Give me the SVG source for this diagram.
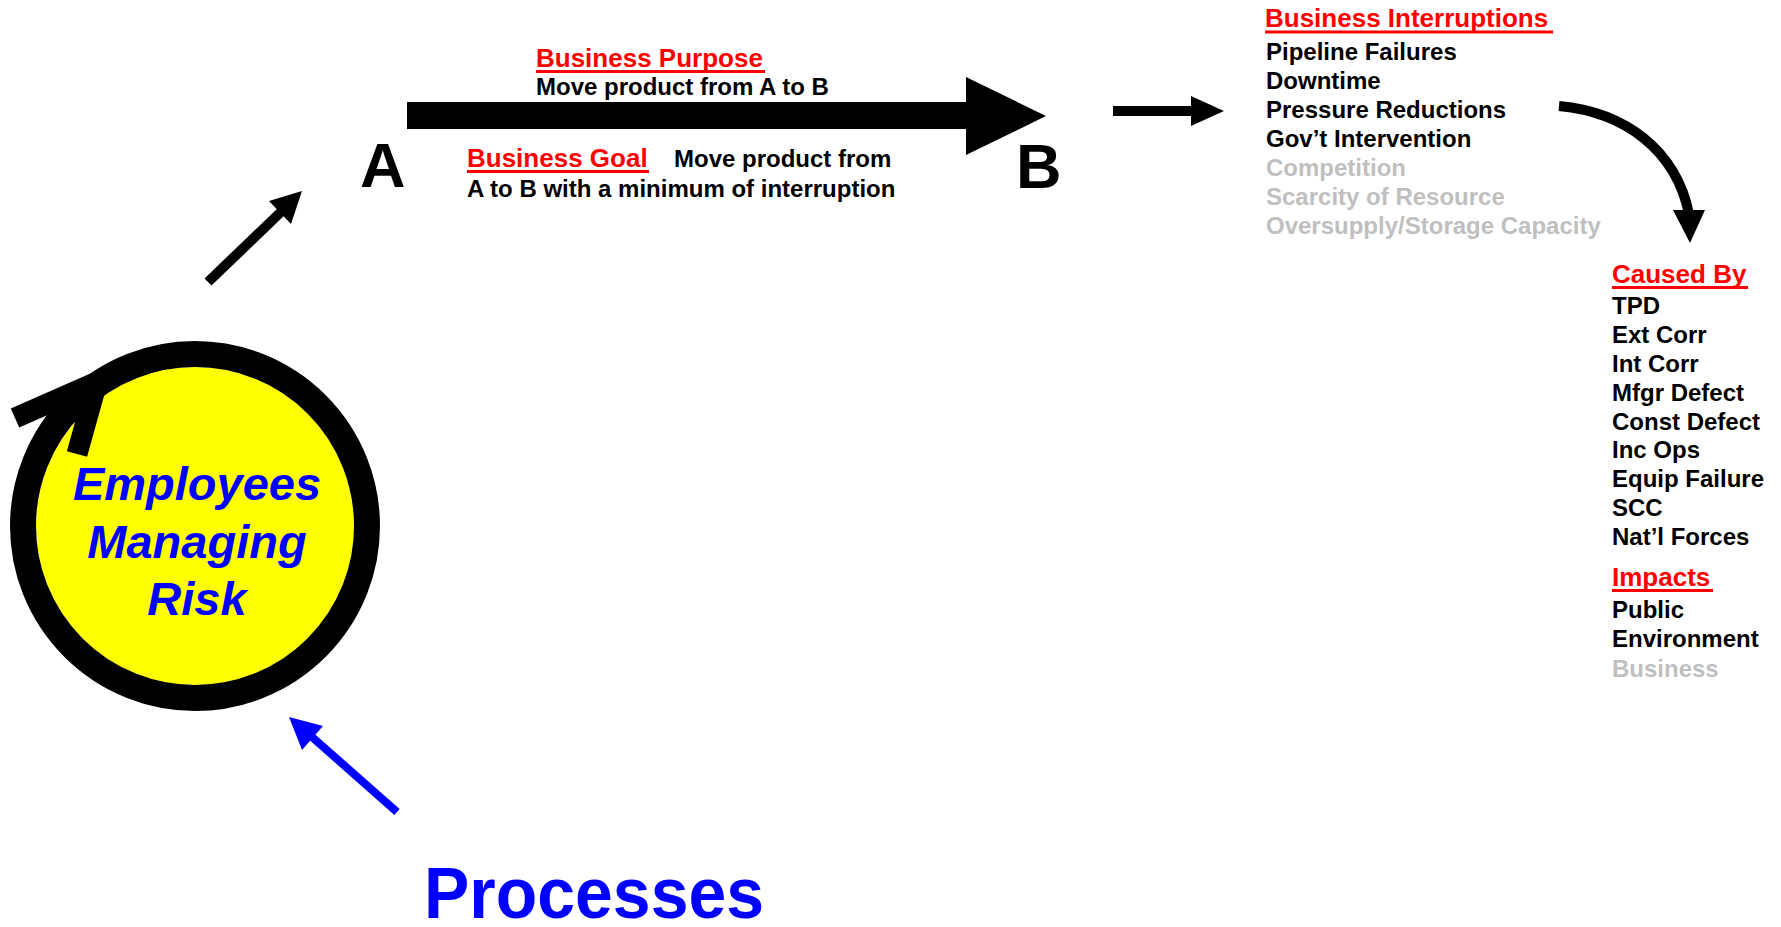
<svg xmlns="http://www.w3.org/2000/svg" width="1781" height="927" viewBox="0 0 1781 927">
  <style>
    text { font-family: "Liberation Sans", Arial, sans-serif; font-weight: bold; }
    .head { font-size: 26px; fill: #ff0000; }
    .item { font-size: 24px; fill: #000000; }
    .dim { font-size: 24px; fill: #bfbfbf; }
    .uline { stroke: #ff0000; stroke-width: 3; }
    .letter { font-size: 63px; fill: #000000; }
    .core { font-size: 47px; font-style: italic; fill: #0000ff; text-anchor: middle; }
  </style>
  <rect width="1781" height="927" fill="#ffffff"/>

  <!-- Central risk cycle -->
  <g id="employees-managing-risk">
    <circle cx="195" cy="526" r="159" fill="#ffff00"/>
    <circle cx="195" cy="526" r="172" fill="none" stroke="#000000" stroke-width="26"/>
    <polyline points="15,418 97,382 77,454" fill="none" stroke="#000000" stroke-width="21" stroke-linejoin="miter"/>
    <text class="core" x="197" y="500">Employees</text>
    <text class="core" x="197" y="558">Managing</text>
    <text class="core" x="197" y="615">Risk</text>
  </g>

  <g id="processes">
    <text x="424" y="918" font-family="'Open Sans', sans-serif" font-size="72" font-weight="bold" fill="#0000ff" textLength="340" lengthAdjust="spacingAndGlyphs">Processes</text>
  </g>

  <g id="point-a">
    <text class="letter" x="360" y="187">A</text>
  </g>
  <g id="point-b">
    <text class="letter" x="1016" y="188">B</text>
  </g>

  <g id="business-purpose">
    <text class="head" x="536" y="67">Business Purpose</text>
    <line class="uline" x1="536" y1="71.5" x2="765" y2="71.5"/>
    <text class="item" x="536" y="95">Move product from A to B</text>
  </g>

  <g id="business-goal">
    <text class="head" x="467" y="167">Business Goal</text>
    <line class="uline" x1="467" y1="171.5" x2="649" y2="171.5"/>
    <text class="item" x="674" y="167">Move product from</text>
    <text class="item" x="467" y="197">A to B with a minimum of interruption</text>
  </g>

  <g id="business-interruptions">
    <text class="head" x="1265" y="27">Business Interruptions</text>
    <line class="uline" x1="1265" y1="32" x2="1553" y2="32"/>
    <text class="item" x="1266" y="60">Pipeline Failures</text>
    <text class="item" x="1266" y="89">Downtime</text>
    <text class="item" x="1266" y="118">Pressure Reductions</text>
    <text class="item" x="1266" y="147">Gov’t Intervention</text>
    <text class="dim" x="1266" y="176">Competition</text>
    <text class="dim" x="1266" y="205">Scarcity of Resource</text>
    <text class="dim" x="1266" y="234">Oversupply/Storage Capacity</text>
  </g>

  <g id="caused-by">
    <text class="head" x="1612" y="283">Caused By</text>
    <line class="uline" x1="1612" y1="287.5" x2="1748" y2="287.5"/>
    <text class="item" x="1612" y="314">TPD</text>
    <text class="item" x="1612" y="343">Ext Corr</text>
    <text class="item" x="1612" y="372">Int Corr</text>
    <text class="item" x="1612" y="401">Mfgr Defect</text>
    <text class="item" x="1612" y="430">Const Defect</text>
    <text class="item" x="1612" y="458">Inc Ops</text>
    <text class="item" x="1612" y="487">Equip Failure</text>
    <text class="item" x="1612" y="516">SCC</text>
    <text class="item" x="1612" y="545">Nat’l Forces</text>
  </g>

  <g id="impacts">
    <text class="head" x="1612" y="586">Impacts</text>
    <line class="uline" x1="1612" y1="590.5" x2="1713" y2="590.5"/>
    <text class="item" x="1612" y="618">Public</text>
    <text class="item" x="1612" y="647">Environment</text>
    <text class="dim" x="1612" y="677">Business</text>
  </g>

  <!-- Connectors -->
  <g id="connectors">
    <!-- A to B main flow -->
    <rect x="407" y="102" width="561" height="27" fill="#000000"/>
    <polygon points="966,77 1046,116 966,155" fill="#000000"/>
    <!-- risk cycle to A -->
    <line x1="208" y1="282" x2="283" y2="210" stroke="#000000" stroke-width="10"/>
    <polygon points="302,191 291,224 269,201" fill="#000000"/>
    <!-- B to interruptions -->
    <rect x="1113" y="106" width="80" height="10" fill="#000000"/>
    <polygon points="1191,96 1224,111 1191,126" fill="#000000"/>
    <!-- interruptions to causes -->
    <path d="M1559,106 C1625,112 1676,150 1689,214" fill="none" stroke="#000000" stroke-width="10"/>
    <polygon points="1673,210 1705,210 1690,243" fill="#000000"/>
    <!-- processes to risk cycle -->
    <line x1="397" y1="812" x2="312" y2="737" stroke="#0000ff" stroke-width="8"/>
    <polygon points="289,717 323,726 302,750" fill="#0000ff"/>
  </g>
</svg>
